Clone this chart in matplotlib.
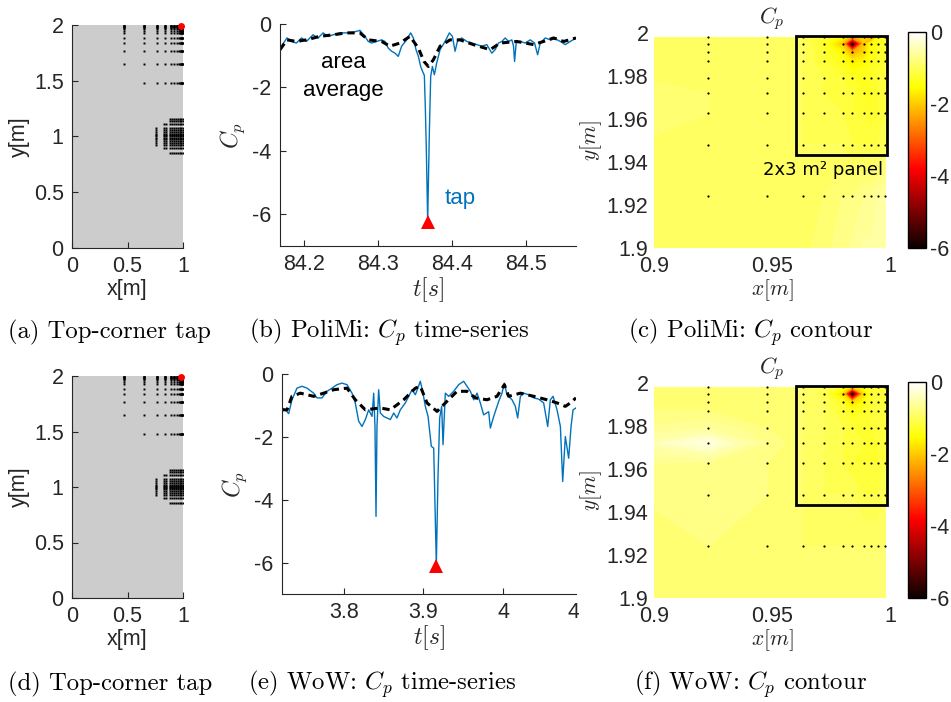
import numpy as np
import matplotlib
matplotlib.use('Agg')
import matplotlib.pyplot as plt
from matplotlib.patches import Rectangle
from matplotlib.colors import Normalize
from matplotlib.cm import ScalarMappable
from matplotlib.transforms import Bbox, TransformedBbox, blended_transform_factory

plt.rcParams['font.family'] = ['Liberation Sans', 'DejaVu Sans']
plt.rcParams['mathtext.fontset'] = 'cm'
plt.rcParams['axes.unicode_minus'] = False

# ---- tap layout (panels a, d) ----
tap_cols = [0.471, 0.649, 0.763, 0.840, 0.892, 0.923, 0.948, 0.963, 0.972,
            0.980, 0.984, 0.989, 0.992, 0.995, 0.998]
tap_rows = [1.998, 1.995, 1.991, 1.987, 1.983, 1.979, 1.972, 1.963, 1.948,
            1.924, 1.886, 1.841, 1.765, 1.650, 1.477]
cluster_cols = [0.757, 0.831, 0.847, 0.883, 0.898, 0.922, 0.94, 0.955,
                0.97, 0.985, 0.998]
cluster_lo = [0.924, 0.897, 0.897, 0.852, 0.852, 0.852, 0.852, 0.852,
              0.852, 0.852, 0.852]
cluster_hi = [1.076, 1.112, 1.112, 1.157, 1.157, 1.157, 1.157, 1.157,
              1.157, 1.157, 1.157]
cluster_rows = [0.852, 0.897, 0.924, 0.945, 0.962, 0.978, 0.99,
                1.0, 1.01, 1.022, 1.038, 1.055, 1.076, 1.112,
                1.135, 1.157]
tap_x, tap_y = 0.985, 1.995

# ---- PoliMi time series (panel b) ----
t_poli = [84.1674, 84.1769, 84.1828, 84.1896, 84.1964, 84.2032, 84.2122, 84.2190,
          84.2258, 84.2326, 84.2394, 84.2484, 84.2575, 84.2665, 84.2756, 84.2824,
          84.2869, 84.2914, 84.2982, 84.3050, 84.3095, 84.3140, 84.3186, 84.3231,
          84.3276, 84.3321, 84.3389, 84.3443, 84.3480, 84.3516, 84.3548, 84.3579,
          84.3606, 84.3629, 84.3643, 84.3656, 84.3674, 84.3697, 84.3715, 84.3738,
          84.3765, 84.3796, 84.3842, 84.3910, 84.3968, 84.4009, 84.4045, 84.4077,
          84.4136, 84.4204, 84.4271, 84.4339, 84.4407, 84.4475, 84.4543, 84.4588,
          84.4633, 84.4679, 84.4724, 84.4769, 84.4814, 84.4837, 84.4851, 84.4873,
          84.4928, 84.4995, 84.5063, 84.5122, 84.5163, 84.5199, 84.5267, 84.5335,
          84.5403, 84.5471, 84.5538, 84.5606, 84.5683]
cp_poli = [-0.76, -0.44, -0.55, -0.60, -0.44, -0.55, -0.34, -0.44,
           -0.28, -0.39, -0.34, -0.28, -0.28, -0.26, -0.20, -0.39,
           -0.55, -0.60, -0.55, -0.50, -0.55, -0.76, -0.86, -0.92,
           -1.02, -0.70, -0.50, -0.28, -0.44, -0.81, -1.02, -1.34,
           -1.50, -1.62, -2.70, -3.97, -6.20, -3.40, -1.65, -1.34,
           -1.60, -1.23, -0.81, -0.55, -0.28, -0.39, -0.86, -0.55,
           -0.44, -0.55, -0.60, -0.65, -0.70, -0.65, -0.92, -0.81,
           -0.60, -0.55, -0.44, -0.55, -0.50, -0.70, -1.18, -0.60,
           -0.55, -0.60, -0.50, -0.60, -0.97, -0.60, -0.44, -0.50,
           -0.47, -0.55, -0.65, -0.55, -0.44]
t_poli_avg = [84.1674, 84.1769, 84.1896, 84.2032, 84.2213, 84.2394, 84.2575, 84.2756,
              84.2869, 84.3050, 84.3163, 84.3299, 84.3434, 84.3548, 84.3624, 84.3683,
              84.3751, 84.3842, 84.3977, 84.4113, 84.4294, 84.4520, 84.4656, 84.4882,
              84.5109, 84.5244, 84.5380, 84.5516, 84.5683]
cp_poli_avg = [-0.81, -0.50, -0.55, -0.50, -0.39, -0.34, -0.28, -0.28,
               -0.50, -0.55, -0.70, -0.60, -0.39, -0.76, -1.18, -1.34,
               -1.13, -0.70, -0.50, -0.50, -0.65, -0.81, -0.60, -0.55,
               -0.65, -0.55, -0.44, -0.55, -0.44]

# ---- WoW time series (panel e) ----
t_wow = [3.7226, 3.7268, 3.7310, 3.7351, 3.7414, 3.7477, 3.7540, 3.7623, 3.7665,
         3.7728, 3.7791, 3.7854, 3.7916, 3.7979, 3.8042, 3.8105, 3.8146, 3.8188,
         3.8230, 3.8272, 3.8314, 3.8356, 3.8377, 3.8393, 3.8406, 3.8418, 3.8439,
         3.8460, 3.8502, 3.8544, 3.8586, 3.8628, 3.8669, 3.8711, 3.8774, 3.8816,
         3.8858, 3.8900, 3.8962, 3.8996, 3.9025, 3.9059, 3.9100, 3.9130, 3.9163,
         3.9184, 3.9205, 3.9230, 3.9247, 3.9276, 3.9318, 3.9381, 3.9444, 3.9506,
         3.9548, 3.9590, 3.9632, 3.9674, 3.9715, 3.9757, 3.9820, 3.9841, 3.9883,
         3.9946, 3.9987, 4.0017, 4.0050, 4.0113, 4.0155, 4.0184, 4.0218, 4.0259,
         4.0322, 4.0385, 4.0448, 4.0510, 4.0561, 4.0594, 4.0628, 4.0678, 4.0720,
         4.0749, 4.0782, 4.0824, 4.0854, 4.0879, 4.0916]
cp_wow = [-1.08, -1.14, -1.26, -0.82, -0.45, -0.39, -0.45, -0.61, -0.76,
          -0.76, -0.55, -0.45, -0.34, -0.29, -0.34, -0.61, -0.92, -1.50,
          -1.67, -1.45, -1.14, -1.35, -0.61, -1.67, -4.53, -1.67, -0.50,
          -1.24, -1.35, -1.40, -1.45, -1.24, -1.40, -1.14, -0.92, -0.71,
          -0.50, -0.66, -0.23, -0.61, -1.03, -1.35, -2.30, -2.36, -6.05,
          -3.26, -1.40, -1.03, -2.25, -0.61, -0.71, -0.55, -0.34, -0.23,
          -0.39, -0.55, -0.82, -0.61, -0.92, -1.30, -1.20, -1.72, -1.35,
          -0.87, -0.61, -0.29, -0.66, -0.82, -1.03, -1.40, -0.71, -0.61,
          -0.66, -0.76, -0.80, -0.92, -1.67, -0.82, -0.71, -1.14, -1.67,
          -3.42, -1.99, -2.68, -1.67, -1.14, -1.08]
t_wow_avg = [3.7226, 3.7289, 3.7351, 3.7456, 3.7623, 3.7749, 3.7874, 3.8042,
             3.8146, 3.8272, 3.8460, 3.8586, 3.8753, 3.8900, 3.8962, 3.9046,
             3.9172, 3.9276, 3.9423, 3.9548, 3.9653, 3.9799, 3.9925, 4.0017,
             4.0071, 4.0218, 4.0385, 4.0552, 4.0678, 4.0782, 4.0845, 4.0916]
cp_wow_avg = [-1.14, -1.14, -0.71, -0.61, -0.71, -0.61, -0.50, -0.45,
              -0.82, -1.14, -1.08, -1.14, -0.82, -0.45, -0.39, -0.92,
              -1.19, -0.92, -0.55, -0.55, -0.76, -0.82, -0.71, -0.34,
              -0.71, -0.61, -0.71, -0.82, -0.92, -1.03, -0.92, -0.76]

# ---- Cp fields at taps near the corner (panels c, f) ----
grid_x = [0.892, 0.923, 0.948, 0.963, 0.972, 0.980, 0.984, 0.989, 0.992, 0.995, 0.998]
grid_y = [1.886, 1.924, 1.948, 1.963, 1.972, 1.979, 1.987, 1.991, 1.995, 1.998]
cp_field_poli = [
    [-0.9, -0.9, -0.9, -0.9, -0.8, -0.7, -0.6, -0.5, -0.5, -0.5, -0.5],
    [-0.9, -0.9, -0.9, -0.9, -0.9, -0.8, -0.8, -0.7, -0.7, -0.6, -0.6],
    [-0.9, -0.9, -0.9, -1.0, -1.0, -1.0, -1.1, -1.1, -1.1, -1.1, -1.0],
    [-0.8, -0.9, -0.9, -1.0, -1.0, -1.1, -1.2, -1.2, -1.3, -1.2, -1.1],
    [-0.8, -0.9, -0.9, -1.0, -1.1, -1.1, -1.2, -1.3, -1.3, -1.2, -1.1],
    [-0.9, -0.9, -0.9, -1.0, -1.1, -1.2, -1.3, -1.3, -1.3, -1.2, -1.1],
    [-0.9, -0.9, -0.9, -1.0, -1.2, -1.4, -1.7, -1.6, -1.4, -1.3, -1.2],
    [-0.9, -0.9, -0.9, -1.0, -1.2, -1.6, -2.3, -1.9, -1.5, -1.3, -1.2],
    [-0.9, -0.9, -0.9, -1.0, -1.3, -2.1, -6.0, -2.1, -1.5, -1.4, -1.2],
    [-0.9, -0.9, -0.9, -1.0, -1.2, -1.6, -2.5, -1.8, -2.7, -1.5, -1.2]]
cp_field_wow = [
    [-0.8, -0.8, -0.8, -0.8, -0.8, -0.8, -0.8, -0.8, -0.8, -0.8, -0.8],
    [-0.8, -0.8, -0.8, -0.9, -0.9, -0.9, -0.9, -0.9, -0.9, -0.9, -0.9],
    [-0.8, -0.7, -0.8, -0.9, -1.0, -1.0, -1.0, -1.1, -1.1, -1.1, -1.0],
    [-0.7, -0.7, -0.8, -0.9, -1.0, -1.1, -1.2, -1.2, -1.2, -1.2, -1.1],
    [-0.5, -0.2, -0.7, -0.9, -1.0, -1.1, -1.1, -1.2, -1.2, -1.2, -1.1],
    [-0.7, -0.6, -0.8, -0.9, -1.0, -1.1, -1.2, -1.2, -1.2, -1.1, -1.1],
    [-0.8, -0.8, -0.8, -0.9, -1.0, -1.2, -1.4, -1.3, -1.2, -1.1, -1.1],
    [-0.8, -0.8, -0.8, -0.9, -1.0, -1.3, -1.9, -1.5, -1.2, -1.1, -1.1],
    [-0.8, -0.8, -0.8, -0.9, -1.1, -1.9, -6.0, -1.9, -1.3, -1.1, -1.1],
    [-0.8, -0.8, -0.8, -0.9, -1.0, -1.3, -2.1, -1.4, -1.2, -1.1, -1.1]]
panel_box = (0.9602, 1.9431, 0.0384, 0.0556)  # x0, y0, w, h of the 2x3 m2 panel

W, H = 951, 702
TXT = '#262626'
BLUE = '#0072BD'
TICK_FS = 15.5
fig = plt.figure(figsize=(W / 100, H / 100), dpi=100)


def add_ax(l, t, r, b):
    # axes from pixel box (left, top, right, bottom)
    return fig.add_axes([l / W, 1 - b / H, (r - l) / W, (b - t) / H])


def matlab_style(ax):
    for s in ['top', 'right']:
        ax.spines[s].set_visible(False)
    for s in ['left', 'bottom']:
        ax.spines[s].set_color(TXT)
        ax.spines[s].set_linewidth(0.8)
    ax.tick_params(direction='in', length=4, width=0.8, color=TXT,
                   labelsize=TICK_FS, labelcolor=TXT, pad=6)


def fmt(v):
    return '{:g}'.format(v)


def plot_taps(ax):
    xs, ys = [], []
    for x in tap_cols:
        for y in tap_rows:
            if x < 0.5 and y < 1.5:
                continue
            xs.append(x)
            ys.append(y)
    for x, lo, hi in zip(cluster_cols, cluster_lo, cluster_hi):
        for y in cluster_rows:
            if lo <= y <= hi:
                xs.append(x)
                ys.append(y)
    ax.set_facecolor('#cccccc')
    ax.plot(xs, ys, 's', color='k', ms=1.4, mew=0)
    ax.plot(tap_x, tap_y, 'o', color='red', ms=5, mew=0, clip_on=False)
    ax.set_xlim(0, 1)
    ax.set_ylim(0, 2)
    matlab_style(ax)
    ax.set_xticks([0, 0.5, 1])
    ax.set_xticklabels([fmt(v) for v in [0, 0.5, 1]])
    ax.set_yticks([0, 0.5, 1, 1.5, 2])
    ax.set_yticklabels([fmt(v) for v in [0, 0.5, 1, 1.5, 2]])
    ax.set_xlabel('x[m]', fontsize=15.5, color=TXT, labelpad=1)
    ax.set_ylabel('y[m]', fontsize=15.5, color=TXT, labelpad=3)


def plot_series(ax, t, cp, t_avg, cp_avg, xticks, xlim):
    ax.plot(t, cp, color=BLUE, lw=1.0)
    ax.plot(t_avg, cp_avg, color='k', lw=2.2, ls=(0, (2.4, 1.6)))
    i = int(np.argmin(cp))
    ax.plot(t[i], cp[i] - 0.05, '^', color='red', ms=10, mew=0, clip_on=False)
    ax.set_xlim(*xlim)
    ax.set_ylim(-7, 0)
    matlab_style(ax)
    ax.set_xticks(xticks)
    ax.set_xticklabels([fmt(v) for v in xticks])
    ax.set_yticks([-6, -4, -2, 0])
    ax.set_yticklabels(['-6', '-4', '-2', '0'])
    ax.set_xlabel('$t[s]$', fontsize=17, color=TXT, labelpad=0)
    ax.set_ylabel('$C_p$', fontsize=17, color=TXT, labelpad=4)


def plot_field(ax, cax, field, label_panel):
    X, Y = np.meshgrid(grid_x, grid_y)
    Z = np.array(field)
    ax.contourf(X, Y, Z, levels=np.linspace(-6, 0, 61), cmap='hot', vmin=-6, vmax=0)
    ax.plot(X.ravel(), Y.ravel(), '.', color='k', ms=3.2, mew=0)
    x0, y0, w, h = panel_box
    ax.add_patch(Rectangle((x0, y0), w, h, fill=False, ec='k', lw=2, zorder=5))
    if label_panel:
        ax.text(0.9715, y0 - 0.0067, '2x3 m² panel', ha='center', va='center',
                fontsize=13, family='DejaVu Sans', color='k')
    ax.set_xlim(0.9, 1.0)
    ax.set_ylim(1.9, 2.0)
    for s in ax.spines.values():
        s.set_visible(False)
    ax.tick_params(axis='y', length=0, labelsize=TICK_FS, labelcolor=TXT, pad=4)
    ax.tick_params(axis='x', length=0, labelsize=TICK_FS, labelcolor=TXT, pad=6)
    ax.set_xticks([0.9, 0.95, 1.0])
    ax.set_xticklabels(['0.9', '0.95', '1'])
    yt = [1.9, 1.92, 1.94, 1.96, 1.98, 2.0]
    ax.set_yticks(yt)
    ax.set_yticklabels(['1.9', '1.92', '1.94', '1.96', '1.98', '2'])
    ax.set_xlabel('$x[m]$', fontsize=15.5, color=TXT, labelpad=0)
    ax.set_ylabel('$y[m]$', fontsize=15.5, color=TXT, labelpad=2)
    ax.set_title('$C_p$', fontsize=16, color=TXT, pad=7)
    cb = fig.colorbar(ScalarMappable(Normalize(-6, 0), cmap='hot'), cax=cax, ticks=[-6, -4, -2, 0])
    cb.ax.set_yticklabels(['-6', '-4', '-2', '0'])
    cb.ax.tick_params(length=0, labelsize=TICK_FS, labelcolor=TXT, pad=3)
    cb.outline.set_linewidth(1.0)
    cb.outline.set_edgecolor('k')


# top row: PoliMi
plot_taps(add_ax(72, 25, 183, 248))
plot_series(add_ax(280, 24, 576, 246), t_poli, cp_poli, t_poli_avg, cp_poli_avg,
            [84.2, 84.3, 84.4, 84.5], (84.1674, 84.5683))
axb = fig.axes[-1]
axb.text(84.2527, -1.2, 'area', ha='center', va='center', fontsize=16, color='k')
axb.text(84.2527, -2.1, 'average', ha='center', va='center', fontsize=16, color='k')
axb.text(84.412, -5.5, 'tap', ha='center', va='center', fontsize=16, color=BLUE)
plot_field(add_ax(654, 33, 890, 248), add_ax(908, 32, 926, 248), cp_field_poli, True)

# bottom row: WoW
plot_taps(add_ax(72, 376, 183, 598))
plot_series(add_ax(282, 374, 576, 594), t_wow, cp_wow, t_wow_avg, cp_wow_avg,
            [3.8, 3.9, 4.0], (3.7226, 4.0916))
axe = fig.axes[-1]
# clipped "4.1" tick label at the right edge of the sub-figure
lbl = axe.text(4.1, -0.035, '4.1', transform=blended_transform_factory(axe.transData, axe.transAxes),
               ha='center', va='top', fontsize=TICK_FS, color=TXT)
lbl.set_clip_box(TransformedBbox(Bbox([[0, 0], [579 / W, 1]]), fig.transFigure))
lbl.set_clip_on(True)
plot_field(add_ax(654, 383, 890, 598), add_ax(908, 382, 926, 598), cp_field_wow, False)

# captions
caps_top = [(8, '(a) Top-corner tap'), (249, '(b) PoliMi: $C_p$ time-series'),
            (628, '(c) PoliMi: $C_p$ contour')]
caps_bot = [(8, '(d) Top-corner tap'), (248, '(e) WoW: $C_p$ time-series'),
            (634, '(f) WoW: $C_p$ contour')]
for x, s in caps_top:
    fig.text(x / W, 1 - 332 / H, s, family='cmr10', fontsize=17.8, va='center', ha='left')
for x, s in caps_bot:
    fig.text(x / W, 1 - 684 / H, s, family='cmr10', fontsize=17.8, va='center', ha='left')

fig.savefig('out.png', dpi=100)
